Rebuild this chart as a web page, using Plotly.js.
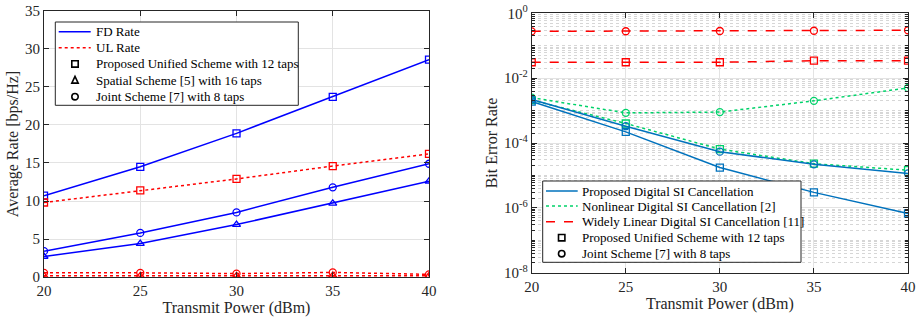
<!DOCTYPE html>
<html>
<head>
<meta charset="utf-8">
<script src="https://cdn.plot.ly/plotly-3.0.1.min.js"></script>
<style>html,body{margin:0;padding:0;background:#fff;}#chart{width:921px;height:323px;}</style>
</head>
<body>
<div id="chart"></div>
<script>
// Transmit power sweep (dBm)
const power = [20, 25, 30, 35, 40];

// Average rate [bps/Hz]
const fdUnified = [10.7, 14.5, 18.9, 23.7, 28.6];
const fdSpatial = [2.7, 4.4, 6.9, 9.7, 12.6];
const fdJoint   = [3.4, 5.8, 8.5, 11.8, 14.9];
const ulUnified = [9.8, 11.4, 12.9, 14.6, 16.2];
const ulSpatial = [0.15, 0.15, 0.15, 0.2, 0.15];
const ulJoint   = [0.55, 0.55, 0.45, 0.6, 0.35];

// Bit error rate
const berProposedUnified = [1.9e-3, 2.2e-4, 1.75e-5, 3.0e-6, 6.7e-7];
const berProposedJoint   = [2.2e-3, 3.3e-4, 5.4e-5, 2.2e-5, 1.15e-5];
const berNonlinUnified   = [2.1e-3, 4.0e-4, 6.5e-5, 2.3e-5, 1.45e-5];
const berNonlinJoint     = [2.5e-3, 8.5e-4, 9.0e-4, 2.0e-3, 5.0e-3];
const berWidelyUnified   = [0.031, 0.031, 0.031, 0.0345, 0.0345];
const berWidelyJoint     = [0.278, 0.28, 0.285, 0.29, 0.3];

// Legend labels
const rateLegend = ['FD Rate', 'UL Rate', 'Proposed Unified Scheme with 12 taps',
                    'Spatial Scheme [5] with 16 taps', 'Joint Scheme [7] with 8 taps'];
const berLegend = ['Proposed Digital SI Cancellation', 'Nonlinear Digital SI Cancellation [2]',
                   'Widely Linear Digital SI Cancellation [11]', 'Proposed Unified Scheme with 12 taps',
                   'Joint Scheme [7] with 8 taps'];

const W = 921, H = 323;
const BLUE = '#0000ff', RED = '#ff0000';
const MBLUE = '#0072bd', MGREEN = '#00d26a', MRED = '#ff0000';
const FONT = 'Liberation Serif';
const INK = '#262626';

function series(x, y, color, dash, symbol, xa, ya) {
  return {
    x: x, y: y, xaxis: xa, yaxis: ya, type: 'scatter', mode: 'lines+markers',
    line: {color: color, width: 1.5, dash: dash},
    marker: {symbol: symbol, size: 7, color: color, line: {color: color, width: 1.3}},
    showlegend: false, hoverinfo: 'x+y'
  };
}

const traces = [
  series(power, fdUnified, BLUE, 'solid', 'square-open', 'x', 'y'),
  series(power, fdSpatial, BLUE, 'solid', 'triangle-up-open', 'x', 'y'),
  series(power, fdJoint,   BLUE, 'solid', 'circle-open', 'x', 'y'),
  series(power, ulUnified, RED, 'dot', 'square-open', 'x', 'y'),
  series(power, ulSpatial, RED, 'dot', 'triangle-up-open', 'x', 'y'),
  series(power, ulJoint,   RED, 'dot', 'circle-open', 'x', 'y'),

  series(power, berWidelyJoint,     MRED, 'dash', 'circle-open', 'x2', 'y2'),
  series(power, berWidelyUnified,   MRED, 'dash', 'square-open', 'x2', 'y2'),
  series(power, berNonlinJoint,     MGREEN, 'dot', 'circle-open', 'x2', 'y2'),
  series(power, berNonlinUnified,   MGREEN, 'dot', 'square-open', 'x2', 'y2'),
  series(power, berProposedJoint,   MBLUE, 'solid', 'circle-open', 'x2', 'y2'),
  series(power, berProposedUnified, MBLUE, 'solid', 'square-open', 'x2', 'y2')
];

// ---- Boxed legends drawn as paper-space shapes and annotations ----
const shapes = [], annotations = [];
const px = v => v / W, py = v => 1 - v / H;

function legendBox(x0, y0, x1, y1) {
  shapes.push({type: 'rect', xref: 'paper', yref: 'paper', layer: 'above',
    x0: px(x0), x1: px(x1), y0: py(y1), y1: py(y0),
    fillcolor: '#fff', line: {color: INK, width: 1}});
}
function legendLine(x0, x1, y, color, dash) {
  shapes.push({type: 'line', xref: 'paper', yref: 'paper', layer: 'above',
    x0: px(x0), x1: px(x1), y0: py(y), y1: py(y), line: {color: color, width: 1.5, dash: dash}});
}
function legendSymbol(cx, cy, kind) {
  const base = {xref: 'paper', yref: 'paper', layer: 'above', line: {color: '#000', width: 1.6},
    xsizemode: 'pixel', ysizemode: 'pixel', xanchor: px(cx), yanchor: py(cy)};
  const r = 3.2;
  if (kind === 'square') shapes.push(Object.assign({type: 'rect', x0: -r, x1: r, y0: -r, y1: r}, base));
  else if (kind === 'circle') shapes.push(Object.assign({type: 'circle', x0: -r, x1: r, y0: -r, y1: r}, base));
  else shapes.push(Object.assign({type: 'path', path: `M${-r},${-r + 0.5} L${r},${-r + 0.5} L0,${r + 0.8} Z`}, base));
}
function legendText(x, y, text) {
  annotations.push({xref: 'paper', yref: 'paper', x: px(x), y: py(y), text: text, showarrow: false,
    xanchor: 'left', yanchor: 'middle', font: {family: FONT, size: 13, color: '#000'}});
}

// Rate legend
legendBox(55.3, 22, 298.3, 105.3);
{
  const rows = [31.7, 47.7, 63.9, 80.4, 96.7];
  legendLine(58.7, 90.7, rows[0], BLUE, 'solid');
  legendLine(58.7, 90.7, rows[1], RED, 'dot');
  legendSymbol(75, rows[2], 'square');
  legendSymbol(75, rows[3], 'triangle');
  legendSymbol(75, rows[4], 'circle');
  rateLegend.forEach((t, i) => legendText(93.5, rows[i], t));
}
// BER legend
legendBox(542.7, 181, 801, 262.3);
{
  const rows = [191, 206, 221.7, 237.7, 253.7];
  legendLine(546, 577.7, rows[0], MBLUE, 'solid');
  legendLine(546, 577.7, rows[1], MGREEN, 'dot');
  legendLine(546, 577.7, rows[2], MRED, 'dash');
  legendSymbol(561.7, rows[3], 'square');
  legendSymbol(561.7, rows[4], 'circle');
  berLegend.forEach((t, i) => legendText(579.5, rows[i], t));
}

// Log-axis minor grid: every mantissa 1..9 in each decade
const minorVals = [];
for (let e = -8; e < 0; e++) for (let m = 1; m <= 9; m++) minorVals.push(m * Math.pow(10, e));
const berTickVals = [1e-8, 1e-6, 1e-4, 1e-2, 1];
const berTickText = ['10<sup>-8</sup>', '10<sup>-6</sup>', '10<sup>-4</sup>', '10<sup>-2</sup>', '10<sup>0</sup>'];

const axisCommon = {
  showline: true, mirror: 'ticks', linecolor: INK, linewidth: 1,
  ticks: 'inside', ticklen: 5, tickcolor: INK,
  tickfont: {family: FONT, size: 15, color: INK},
  gridcolor: '#e3e3e3', gridwidth: 1, zeroline: false
};
const titleFont = {family: FONT, size: 16, color: INK};

const layout = {
  width: W, height: H,
  margin: {l: 0, r: 0, t: 0, b: 0},
  paper_bgcolor: '#fff', plot_bgcolor: '#fff',
  font: {family: FONT, color: INK},
  showlegend: false,
  xaxis: Object.assign({}, axisCommon, {
    domain: [0.0478, 0.4658], range: [20, 40], tickvals: power,
    title: {text: 'Transmit Power (dBm)', font: titleFont, standoff: 2}
  }),
  yaxis: Object.assign({}, axisCommon, {
    domain: [0.1424, 0.966], range: [0, 35], dtick: 5,
    title: {text: 'Average Rate [bps/Hz]', font: titleFont, standoff: 2}
  }),
  xaxis2: Object.assign({}, axisCommon, {
    domain: [0.5773, 0.9859], range: [20, 40], tickvals: power, anchor: 'y2',
    title: {text: 'Transmit Power (dBm)', font: titleFont, standoff: 2}
  }),
  yaxis2: Object.assign({}, axisCommon, {
    domain: [0.1557, 0.9588], type: 'log', range: [-8, 0], anchor: 'x2',
    tickvals: berTickVals, ticktext: berTickText,
    minor: {tickvals: minorVals, showgrid: true, gridcolor: '#d6d6d6', griddash: 'dot', gridwidth: 1,
            ticks: 'inside', ticklen: 3, tickcolor: INK},
    title: {text: 'Bit Error Rate', font: titleFont, standoff: 2}
  }),
  shapes: shapes,
  annotations: annotations
};

Plotly.newPlot('chart', traces, layout, {displayModeBar: false, staticPlot: true});
</script>
</body>
</html>
